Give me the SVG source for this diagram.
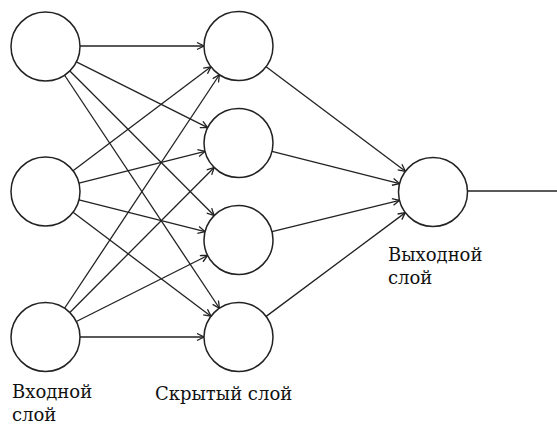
<svg xmlns="http://www.w3.org/2000/svg" width="557" height="425" viewBox="0 0 557 425">
<style>
.node{fill:#ffffff;stroke:#222222;stroke-width:1.5}
.edge{stroke:#222222;stroke-width:1.3;fill:none}
.arrow .edge{marker-end:url(#ah)}
.lbl{font-family:"DejaVu Serif","Liberation Serif",serif;font-size:18px;fill:#111111}
</style>
<defs>
<marker id="ah" markerUnits="userSpaceOnUse" markerWidth="10" markerHeight="10" refX="8" refY="4" orient="auto">
<path d="M1,0.5 L8,4 L1,7.5" fill="none" stroke="#222222" stroke-width="1.3"/>
</marker>
</defs>
<rect width="557" height="425" fill="#ffffff"/>
<g id="connectors" class="arrow">
<line class="edge" x1="80" y1="46" x2="204" y2="46"/>
<line class="edge" x1="76.36" y1="61.93" x2="207.64" y2="127.57"/>
<line class="edge" x1="69.86" y1="70.93" x2="214.14" y2="215.57"/>
<line class="edge" x1="64.59" y1="75.24" x2="219.41" y2="308.26"/>
<line class="edge" x1="73.05" y1="170.73" x2="210.95" y2="66.77"/>
<line class="edge" x1="78.96" y1="183.09" x2="205.04" y2="151.41"/>
<line class="edge" x1="78.96" y1="199.91" x2="205.04" y2="231.59"/>
<line class="edge" x1="73.05" y1="212.27" x2="210.95" y2="316.23"/>
<line class="edge" x1="64.57" y1="308.25" x2="219.43" y2="74.75"/>
<line class="edge" x1="69.83" y1="312.54" x2="214.17" y2="167.46"/>
<line class="edge" x1="76.33" y1="321.51" x2="207.67" y2="255.49"/>
<line class="edge" x1="80" y1="337" x2="204" y2="337"/>
<line class="edge" x1="266.09" y1="66.71" x2="405.41" y2="171.29"/>
<line class="edge" x1="271.95" y1="151.43" x2="399.55" y2="183.57"/>
<line class="edge" x1="271.99" y1="231.73" x2="399.51" y2="200.27"/>
<line class="edge" x1="266.16" y1="316.38" x2="405.34" y2="212.62"/>
<line x1="467.5" y1="191" x2="557" y2="191" stroke="#222222" stroke-width="1.3"/>
</g>
<g id="in1"><circle class="node" cx="45.5" cy="46.5" r="34.5"/></g>
<g id="in2"><circle class="node" cx="45.5" cy="191.5" r="34.5"/></g>
<g id="in3"><circle class="node" cx="45.5" cy="337" r="34.5"/></g>
<g id="h1"><circle class="node" cx="238.5" cy="46" r="34.5"/></g>
<g id="h2"><circle class="node" cx="238.5" cy="143" r="34.5"/></g>
<g id="h3"><circle class="node" cx="238.5" cy="240" r="34.5"/></g>
<g id="h4"><circle class="node" cx="238.5" cy="337" r="34.5"/></g>
<g id="out"><circle class="node" cx="433" cy="192" r="34.5"/></g>
<g id="labels">
<text class="lbl" x="12" y="398">Входной</text>
<text class="lbl" x="12" y="421">слой</text>
<text class="lbl" x="155" y="400">Скрытый слой</text>
<text class="lbl" x="388" y="261">Выходной</text>
<text class="lbl" x="388" y="284">слой</text>
</g>
</svg>
